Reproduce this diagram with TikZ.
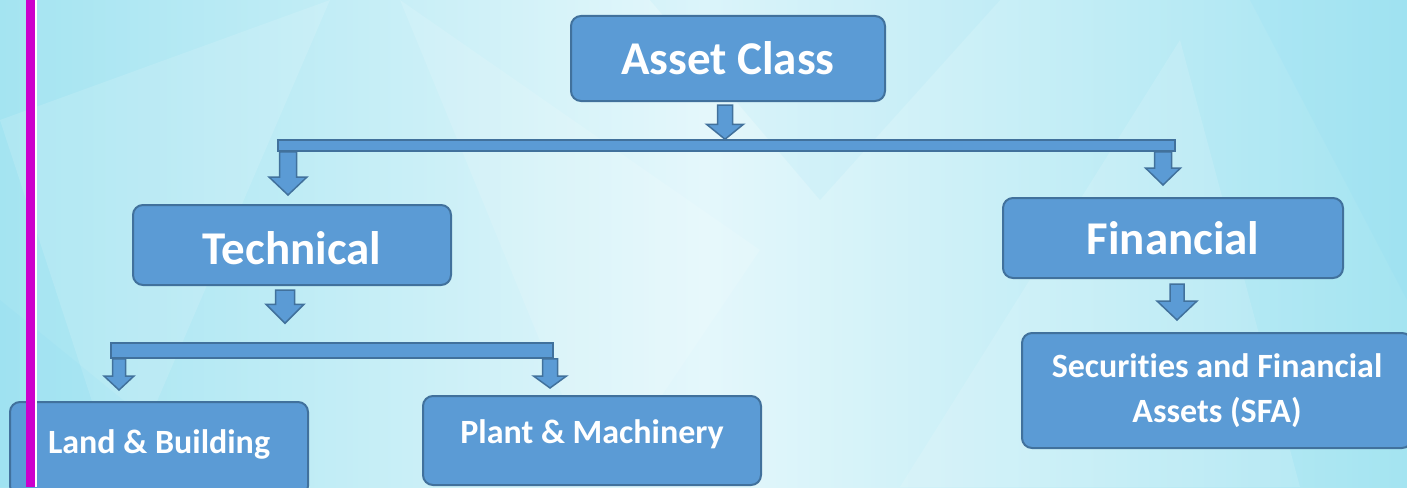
\documentclass[tikz,border=0pt]{standalone}
\usepackage{fontspec}
\setmainfont{Carlito}[Ligatures=CommonOff]
\usetikzlibrary{calc}

\definecolor{boxblue}{RGB}{91,155,213}
\definecolor{boxedge}{RGB}{65,113,156}
\definecolor{bgedge}{RGB}{164,228,241}
\definecolor{bgmid}{RGB}{228,247,251}
\definecolor{railpink}{RGB}{204,0,204}

\tikzset{
  box/.style={draw=boxedge, fill=boxblue, line width=2pt, rounded corners=10pt,
    text=white, align=center, inner sep=0pt},
  bigtext/.style={font=\fontsize{47}{56}\selectfont\bfseries},
  smalltext/.style={font=\fontsize{34}{45}\selectfont\bfseries},
  bar/.style={draw=boxedge, fill=boxblue, line width=1.5pt, inner sep=0pt},
  % block arrow pointing down: shaft half width, head half width, head length
  fatarrow/.style n args={3}{draw=boxedge, fill=boxblue, line width=1.5pt, line join=miter,
    to path={let \p1=(\tikztostart), \p2=(\tikztotarget) in
      (\x1-#1,\y1) -- (\x1+#1,\y1) -- (\x1+#1,\y2+#3) -- (\x1+#2,\y2+#3)
      -- (\x1,\y2) -- (\x1-#2,\y2+#3) -- (\x1-#1,\y2+#3) -- cycle}},
  facet/.style={fill=white, opacity=0.13},
  shadefacet/.style={fill=cyan!60!white, opacity=0.07},
}

\begin{document}
\begin{tikzpicture}[x=1pt, y=-1pt]
  \useasboundingbox (0,0) rectangle (1407,487);
  \clip (0,0) rectangle (1407,487);

  %%%%% background %%%%%
  \fill[left color=bgedge, right color=bgmid] (0,0) rectangle (704,487);
  \fill[left color=bgmid, right color=bgedge] (704,0) rectangle (1407,487);
  \fill[facet] (0,120) -- (330,0) -- (120,487) -- cycle;
  \fill[facet] (400,0) -- (760,250) -- (600,487) -- cycle;
  \fill[facet] (900,487) -- (1180,40) -- (1300,487) -- cycle;
  \fill[shadefacet] (1250,0) -- (1407,0) -- (1407,300) -- cycle;
  \fill[shadefacet] (0,300) -- (230,487) -- (0,487) -- cycle;
  \fill[shadefacet] (650,0) -- (1000,0) -- (820,200) -- cycle;

  %%%%% boxes %%%%%
  \node[box, bigtext, minimum width=314, minimum height=85] (asset) at (728,58.5) {Asset Class};
  \node[box, bigtext, minimum width=318, minimum height=80, text height=39pt] (tech) at (292,245) {Technical};
  \node[box, bigtext, minimum width=340, minimum height=80] (fin) at (1173,238) {Financial};
  \node[box, smalltext, minimum width=298, minimum height=94, text depth=14pt] (land) at (159,449) {Land \& Building};
  \node[box, smalltext, minimum width=338, minimum height=89, text depth=18pt] (plant) at (592,440.5) {Plant \& Machinery};
  \node[box, smalltext, minimum width=390, minimum height=115] (sfa) at (1217,390.5)
    {Securities and Financial\\Assets (SFA)};

  %%%%% bars %%%%%
  \node[bar, minimum width=897, minimum height=11] (topbar) at (726.5,145.5) {};
  \node[bar, minimum width=442, minimum height=15] (techbar) at (332,350.5) {};

  %%%%% arrows %%%%%
  \path[fatarrow={7.5pt}{18.5pt}{15pt}] ($(725,0 |- asset.south)+(0,3)$) to (725,0 |- topbar.north);
  \path[fatarrow={8.5pt}{19pt}{18pt}] (288,0 |- topbar.south) to ($(288,0 |- tech.north)+(0,-9)$);
  \path[fatarrow={8.5pt}{17.5pt}{17pt}] (1163,0 |- topbar.south) to ($(1163,0 |- fin.north)+(0,-12)$);
  \path[fatarrow={9.5pt}{19pt}{19pt}] ($(285,0 |- tech.south)+(0,4)$) to ($(285,0 |- techbar.north)+(0,-19)$);
  \path[fatarrow={6.5pt}{15pt}{14pt}] (119,0 |- techbar.south) to ($(119,0 |- land.north)+(0,-11)$);
  \path[fatarrow={7.5pt}{16.5pt}{12pt}] (550,0 |- techbar.south) to ($(550,0 |- plant.north)+(0,-7)$);
  \path[fatarrow={7pt}{20pt}{19pt}] ($(1177,0 |- fin.south)+(0,5)$) to ($(1177,0 |- sfa.north)+(0,-12)$);

  %%%%% side rail %%%%%
  \fill[railpink] (26,0) rectangle (34.5,487);
  \fill[white] (34.5,0) rectangle (37,487);
\end{tikzpicture}
\end{document}
